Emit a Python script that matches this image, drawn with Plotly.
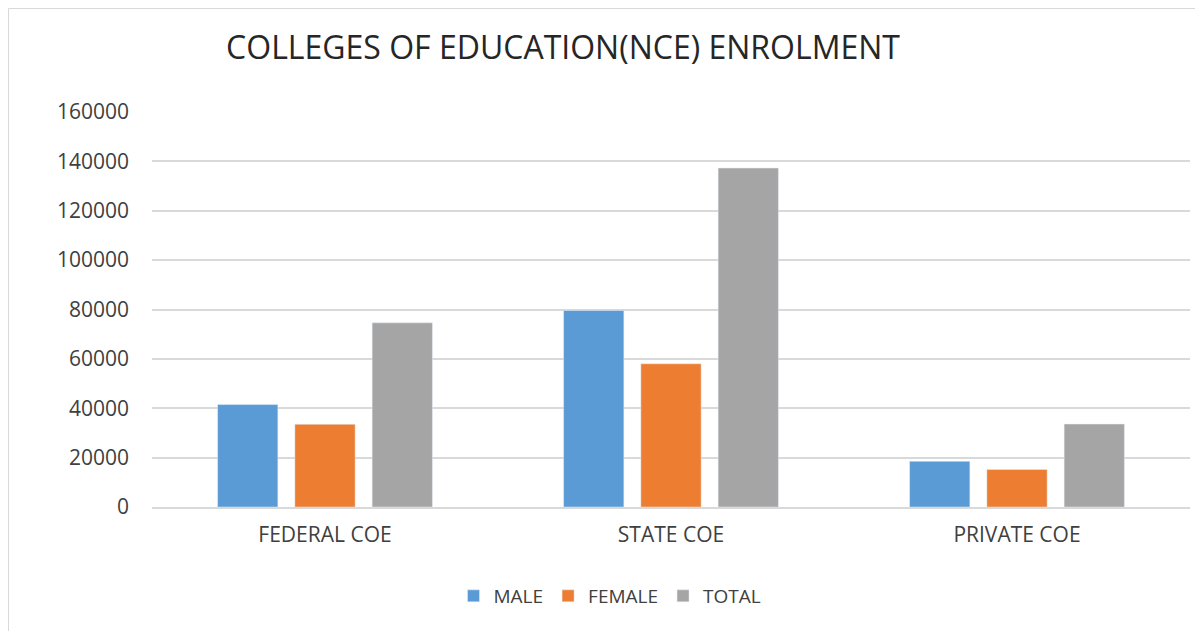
import plotly.graph_objects as go

# data
categories = ["FEDERAL COE", "STATE COE", "PRIVATE COE"]
male = [41500, 79600, 18500]
female = [33500, 58000, 15200]
total = [74600, 137300, 33600]

fig = go.Figure()
fig.add_trace(go.Bar(name="MALE", x=categories, y=male, marker_color="#5B9BD5"))
fig.add_trace(go.Bar(name="FEMALE", x=categories, y=female, marker_color="#ED7D31"))
fig.add_trace(go.Bar(name="TOTAL", x=categories, y=total, marker_color="#A5A5A5"))

# page body has an 8px margin, so the figure is a bit smaller and shifted
W, H = 1195, 623
L, R, T, B = 144, 13, 104, 124
pw = W - L - R
ph = H - T - B

fig.update_layout(
    width=W, height=H,
    margin=dict(l=L, r=R, t=T, b=B),
    paper_bgcolor="white", plot_bgcolor="white",
    font=dict(family="Open Sans", color="#404040", size=20),
    title=dict(text="COLLEGES OF EDUCATION(NCE) ENROLMENT", x=555 / W, xanchor="center",
               y=1 - 40 / H, yanchor="middle", font=dict(size=32, color="#262626")),
    barmode="group", bargap=0.33, bargroupgap=0.22,
    showlegend=True,
    legend=dict(orientation="h", x=602 / W, xanchor="center", xref="container",
                y=1 - 588 / H, yanchor="middle", yref="container",
                font=dict(size=19), itemwidth=30, traceorder="normal"),
    shapes=[dict(type="rect", xref="paper", yref="paper",
                 x0=(0.5 - L) / pw, x1=(1210 - L) / pw,
                 y0=(H - B - 640) / ph, y1=(H - B - 0.5) / ph,
                 line=dict(color="#d9d9d9", width=1), fillcolor="rgba(0,0,0,0)", layer="below")],
)
fig.update_yaxes(range=[0, 160000], dtick=20000, showgrid=True, gridcolor="#d9d9d9",
                 gridwidth=2, zeroline=False, showline=False, tickformat="d",
                 ticklabelstandoff=22, tickfont=dict(size=21))
fig.update_xaxes(showline=True, linecolor="#d9d9d9", linewidth=2, ticks="",
                 ticklabelstandoff=8, tickfont=dict(size=21))

fig.write_html("out.html")
